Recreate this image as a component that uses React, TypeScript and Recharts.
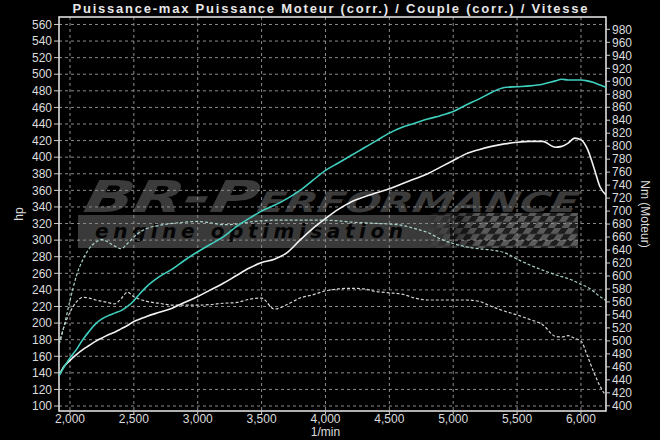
import React from 'react';
import { LineChart, Line, XAxis, YAxis, CartesianGrid, ReferenceArea } from 'recharts';

const RPM = [1915, 1950, 2000, 2050, 2100, 2150, 2200, 2250, 2300, 2350, 2400, 2450, 2500, 2550, 2600, 2700, 2800, 2900, 3000, 3100, 3200, 3300, 3400, 3500, 3600, 3700, 3800, 3900, 4000, 4100, 4200, 4300, 4400, 4500, 4600, 4700, 4800, 4900, 5000, 5100, 5200, 5300, 5400, 5500, 5600, 5700, 5800, 5850, 5900, 5950, 6000, 6050, 6100, 6150, 6200];

const POWER_TUNED = [137, 146, 158, 168, 180, 190, 199, 205, 209, 212, 215, 220, 227, 236, 244, 256, 265, 276, 286, 295, 304, 316, 326, 335, 342, 350, 360, 372, 384, 393, 402, 411, 420, 429, 436, 441, 446, 450, 455, 463, 470, 478, 484, 485, 486, 488, 492, 494, 493, 493, 493, 492, 490, 487, 484];

const POWER_STOCK = [137, 147, 155, 162, 168, 173, 178, 182, 186, 189, 193, 197, 202, 205, 208, 213, 218, 225, 232, 240, 248, 257, 266, 273, 277, 285, 300, 314, 326, 337, 346, 352, 357, 362, 368, 374, 380, 388, 396, 404, 409, 413, 416, 418, 419, 419, 412, 413, 417, 423, 421, 410, 388, 364, 354];

const TORQUE_TUNED = [495, 520, 562, 600, 625, 642, 652, 656, 652, 646, 642, 650, 660, 668, 673, 678, 681, 683, 684, 682, 679, 680, 683, 685, 686, 686, 686, 686, 686, 685, 683, 682, 681, 680, 678, 673, 667, 657, 650, 645, 642, 640, 636, 626, 617, 609, 602, 599, 596, 592, 587, 583, 576, 568, 562];

const TORQUE_STOCK = [495, 520, 544, 560, 567, 566, 563, 561, 559, 557, 565, 575, 568, 564, 561, 558, 555, 555, 555, 556, 558, 559, 564, 566, 549, 556, 566, 571, 577, 580, 581, 580, 576, 574, 572, 566, 563, 563, 563, 563, 561, 553, 546, 540, 533, 525, 507, 506, 508, 504, 500, 477, 452, 430, 414];

const HP_TICKS = [100, 120, 140, 160, 180, 200, 220, 240, 260, 280, 300, 320, 340, 360, 380, 400, 420, 440, 460, 480, 500, 520, 540, 560];
const NM_TICKS = [400, 420, 440, 460, 480, 500, 520, 540, 560, 580, 600, 620, 640, 660, 680, 700, 720, 740, 760, 780, 800, 820, 840, 860, 880, 900, 920, 940, 960, 980];
const RPM_TICKS = [2000, 2500, 3000, 3500, 4000, 4500, 5000, 5500, 6000];

const TITLE = 'Puissance-max Puissance Moteur (corr.) / Couple (corr.) / Vitesse';
const X_LABEL = '1/min';
const LEFT_LABEL = 'hp';
const RIGHT_LABEL = 'Nm (Moteur)';
const BRAND_BIG = 'BR-P';
const BRAND_SMALL = 'ERFORMANCE';
const BRAND_SUB = 'engine optimisation';

const X_DOMAIN = [1914, 6196];
const HP_DOMAIN = [94, 569];
const NM_DOMAIN = [392, 999];

const data = RPM.map((rpm, i) => ({
  rpm,
  powerTuned: POWER_TUNED[i],
  powerStock: POWER_STOCK[i],
  torqueTuned: TORQUE_TUNED[i],
  torqueStock: TORQUE_STOCK[i],
}));

const FONT = "'Liberation Sans', Arial, sans-serif";
const TEXT = '#dcdcdc';
const fmt = (v: number) => v.toLocaleString('en-US');

function Background() {
  return (
    <svg width={660} height={440} style={{ position: 'absolute', left: 0, top: 0 }}>
      <defs>
        <pattern id="chk" width={14} height={12} patternUnits="userSpaceOnUse" patternTransform="skewX(-35)">
          <rect x={0} y={0} width={14} height={12} fill="#1e1e1e" />
          <rect x={0} y={0} width={7} height={6} fill="#5a5a5a" />
          <rect x={7} y={6} width={7} height={6} fill="#5a5a5a" />
        </pattern>
        <linearGradient id="fade" x1="0" y1="0" x2="1" y2="0">
          <stop offset="0" stopColor="#fff" stopOpacity={0} />
          <stop offset="0.35" stopColor="#fff" stopOpacity={1} />
          <stop offset="1" stopColor="#fff" stopOpacity={1} />
        </linearGradient>
        <mask id="fadeMask">
          <rect x={425} y={212} width={155} height={38} fill="url(#fade)" />
        </mask>
      </defs>
      <text x={330} y={13} textAnchor="middle" fill="#e8e8e8" fontFamily={FONT} fontWeight="bold" fontSize={13} textLength={515} lengthAdjust="spacing">
        {TITLE}
      </text>
      <text x={82} y={212} fill="#3b3b3b" fontFamily="'DejaVu Sans', sans-serif" fontWeight="bold" fontStyle="italic" fontSize={44} textLength={495} lengthAdjust="spacingAndGlyphs" transform="skewX(-12) translate(45 0)">
        <tspan>{BRAND_BIG}</tspan>
        <tspan fontSize={28}>{BRAND_SMALL}</tspan>
      </text>
      <rect x={78} y={215} width={372} height={33} fill="#3a3a3a" />
      <rect x={425} y={213} width={153} height={35} fill="url(#chk)" mask="url(#fadeMask)" />
      <text x={95} y={238} fill="#050505" fontFamily="'DejaVu Sans', sans-serif" fontWeight="bold" fontStyle="italic" fontSize={20} textLength={308} lengthAdjust="spacing">
        {BRAND_SUB}
      </text>
    </svg>
  );
}

export default function App() {
  return (
    <div style={{ position: 'absolute', left: 0, top: 0, width: 660, height: 440, background: '#000', overflow: 'hidden' }}>
      <Background />
      <div style={{ position: 'absolute', left: 0, top: 0 }}>
        <LineChart width={660} height={440} data={data} margin={{ top: 17, right: 0, bottom: 0, left: 0 }}>
          <CartesianGrid
            stroke="#8c8c8c"
            strokeDasharray="3 3"
            horizontalValues={HP_TICKS}
            verticalValues={RPM_TICKS}
            yAxisId="left"
          />
          <XAxis
            dataKey="rpm"
            type="number"
            domain={X_DOMAIN}
            ticks={RPM_TICKS}
            allowDataOverflow
            height={29}
            axisLine={false}
            tickLine={{ stroke: '#cfcfcf' }}
            tickSize={3}
            tickMargin={0}
            tickFormatter={fmt}
            tick={{ fill: TEXT, fontSize: 12, fontFamily: FONT }}
            label={{ value: X_LABEL, position: 'insideBottom', offset: 4, dx: -7, fill: TEXT, fontSize: 12, fontFamily: FONT }}
          />
          <YAxis
            yAxisId="left"
            orientation="left"
            type="number"
            domain={HP_DOMAIN}
            ticks={HP_TICKS}
            allowDataOverflow
            width={59}
            axisLine={false}
            tickLine={{ stroke: '#cfcfcf' }}
            tickSize={5}
            tickMargin={2}
            interval={0}
            tick={{ fill: TEXT, fontSize: 12, fontFamily: FONT }}
            label={{ value: LEFT_LABEL, angle: -90, position: 'center', dx: -11, fill: TEXT, fontSize: 12, fontFamily: FONT }}
          />
          <YAxis
            yAxisId="right"
            orientation="right"
            type="number"
            domain={NM_DOMAIN}
            ticks={NM_TICKS}
            allowDataOverflow
            width={54}
            axisLine={false}
            tickLine={{ stroke: '#cfcfcf' }}
            tickSize={4}
            tickMargin={2}
            interval={0}
            tick={{ fill: TEXT, fontSize: 12, fontFamily: FONT }}
            label={{ value: RIGHT_LABEL, angle: 90, position: 'center', dx: 12, fill: TEXT, fontSize: 12, fontFamily: FONT }}
          />
          <Line yAxisId="right" dataKey="torqueStock" type="monotone" stroke="#d6d6d6" strokeWidth={1.2} strokeDasharray="3 2" dot={false} isAnimationActive={false} />
          <Line yAxisId="right" dataKey="torqueTuned" type="monotone" stroke="#a9d3cd" strokeWidth={1.2} strokeDasharray="3 2" dot={false} isAnimationActive={false} />
          <Line yAxisId="left" dataKey="powerStock" type="monotone" stroke="#f2f2f2" strokeWidth={1.6} dot={false} isAnimationActive={false} />
          <Line yAxisId="left" dataKey="powerTuned" type="monotone" stroke="#3fcfbf" strokeWidth={1.6} dot={false} isAnimationActive={false} />
          <ReferenceArea
            yAxisId="left"
            x1={X_DOMAIN[0]}
            x2={X_DOMAIN[1]}
            y1={HP_DOMAIN[0]}
            y2={HP_DOMAIN[1]}
            fill="none"
            fillOpacity={0}
            stroke="#ececec"
            strokeWidth={1.5}
            ifOverflow="extendDomain"
          />
        </LineChart>
      </div>
    </div>
  );
}
